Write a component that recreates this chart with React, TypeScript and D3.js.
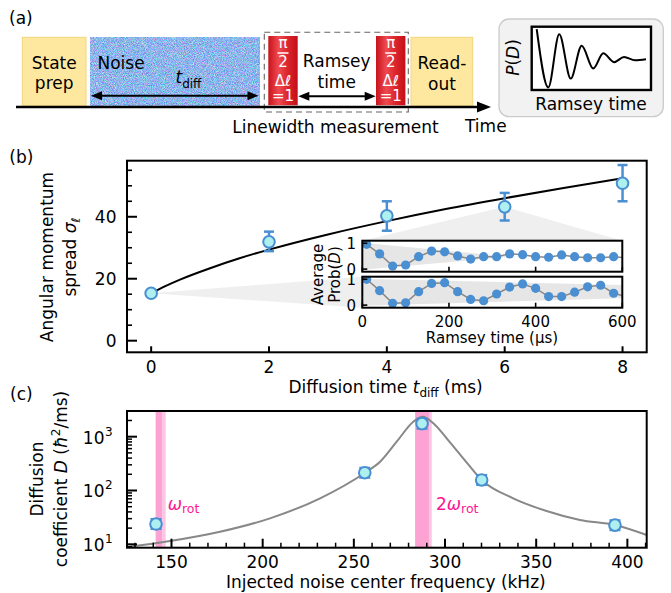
import React from 'react';
import * as d3 from 'd3';

const F = "'DejaVu Sans', sans-serif";

// ---------- Panel (b) data ----------
const diffTimes = [0, 2, 4, 6, 8];
const sigmaVals = [15.3, 31.9, 40.3, 43.2, 50.8];
const sigmaLo = [15.3, 28.9, 35.5, 38.8, 45.0];
const sigmaHi = [15.3, 35.2, 45.0, 47.7, 56.7];
const fitTimes = [0, 0.25, 0.5, 1, 1.5, 2, 3, 4, 5, 6, 7, 8];
const fitSigma = [15.3, 17.7, 19.8, 23.4, 26.6, 29.4, 34.3, 38.6, 42.5, 46.0, 49.3, 52.4];
const bXTicks = [0, 2, 4, 6, 8];
const bYMajor = [0, 20, 40];
const bYMinor = [5, 10, 15, 25, 30, 35, 45, 50, 55];

// inset (Ramsey) data
const ramseyTimes = [10, 40, 70, 100, 130, 160, 190, 220, 250, 280, 310, 340, 370, 400, 430, 460, 490, 520, 550, 580, 610];
const probAt6ms = [0.96, 0.59, 0.12, 0.16, 0.48, 0.70, 0.67, 0.51, 0.39, 0.48, 0.48, 0.59, 0.56, 0.48, 0.46, 0.55, 0.48, 0.44, 0.44, 0.48, 0.44];
const probAt0ms = [1.0, 0.56, 0.07, 0.09, 0.52, 0.84, 0.87, 0.52, 0.22, 0.17, 0.43, 0.70, 0.82, 0.65, 0.33, 0.33, 0.50, 0.71, 0.77, 0.46, 0.33];
const envTopT = [0, 330];
const envTopHi = [1.02, 0.5];
const envTopLo = [-0.02, 0.46];
const envBotT = [0, 600];
const envBotHi = [1.02, 0.78];
const envBotLo = [-0.02, 0.27];
const insetXTicks = [0, 200, 400, 600];
const insetYTicks = [0, 1];

// ---------- Panel (c) data ----------
const noiseFreqs = [141.5, 256.0, 287.4, 320.1, 393.2];
const diffD = [23.8, 214, 1750, 157, 22.7];
const diffDLo = [19.2, 173, 1411, 127, 18.3];
const diffDHi = [29.5, 265, 2170, 195, 28.1];
const modelFreqs = [125.6, 149.2, 176.6, 204, 231.5, 256.1, 264.4, 273.5, 282.6, 287.8, 293.6, 300.9, 310, 320.1, 337.4, 355.7, 374, 393.2, 410.6];
const modelD = [8.9, 11.5, 17.1, 30.4, 71.6, 214, 343, 807, 1900, 2355, 1775, 933, 396, 157, 71.6, 41.6, 28.3, 22.9, 14.9];
const rotBand = [141.3, 145.1, 146.8];
const rot2Band = [283.6, 291.2, 292.7];
const cXMajor = [150, 200, 250, 300, 350, 400];
const cXMinor = [130, 140, 160, 170, 180, 190, 210, 220, 230, 240, 260, 270, 280, 290, 310, 320, 330, 340, 360, 370, 380, 390, 410];
const cYMajor = [10, 100, 1000];
const cYMinor = [9, 20, 30, 40, 50, 60, 70, 80, 90, 200, 300, 400, 500, 600, 700, 800, 900, 2000, 3000];

// ---------- Panel (a) schematic data ----------
const schemT = [0.042, 0.139, 0.231, 0.327, 0.419, 0.516, 0.600, 0.690, 0.774, 0.866, 0.958];
const schemP = [0.96, 0.04, 0.88, 0.18, 0.70, 0.34, 0.58, 0.44, 0.52, 0.47, 0.485];

const BLUE = '#4a8fd2';
const CYAN = '#aef0f0';
const PINK = '#ff1493';

function Pulse({ x }: { x: number }) {
  const cx = x + 14.7;
  return (
    <g>
      <rect x={x} y={36} width={29.4} height={69.3} fill="url(#redGrad)" />
      <g fill="white" fontSize={15} textAnchor="middle">
        <text x={cx} y={48}>π</text>
        <line x1={cx - 5.5} x2={cx + 5.5} y1={53} y2={53} stroke="white" strokeWidth={1.5} />
        <text x={cx} y={67.3}>2</text>
        <text x={cx} y={86.3}>Δℓ</text>
        <text x={cx} y={101}>=1</text>
      </g>
    </g>
  );
}

function DoubleArrow({ x1, x2, y }: { x1: number; x2: number; y: number }) {
  return (
    <g>
      <line x1={x1 + 8} x2={x2 - 8} y1={y} y2={y} stroke="black" strokeWidth={2} />
      <polygon points={`${x1},${y} ${x1 + 11},${y - 4.5} ${x1 + 11},${y + 4.5}`} fill="black" />
      <polygon points={`${x2},${y} ${x2 - 11},${y - 4.5} ${x2 - 11},${y + 4.5}`} fill="black" />
    </g>
  );
}

export default function App() {
  // Panel b scales
  const xB = d3.scaleLinear().domain([-0.41, 8.41]).range([127, 646.7]);
  const yB = d3.scaleLinear().domain([-3.75, 58.1]).range([352.3, 160.7]);
  const bL = 127, bR = 646.7, bT = 160.7, bBot = 352.3;

  // inset scales
  const inX = d3.scaleLinear().domain([0, 600]).range([362.3, 622.3]);
  const inYTop = d3.scaleLinear().domain([-0.1, 1.1]).range([271.7, 240.7]);
  const inYBot = d3.scaleLinear().domain([-0.1, 1.1]).range([307.7, 276.7]);

  // Panel c scales
  const xC = d3.scaleLinear().domain([125.6, 410.6]).range([127, 646.7]);
  const yC = d3.scaleLog().domain([8.65, 3000]).range([547.7, 411]);
  const cL = 127, cR = 646.7, cT = 411, cBot = 547.7;

  // schematic scales
  const sX = d3.scaleLinear().domain([0, 1]).range([531.7, 651]);
  const sY = d3.scaleLinear().domain([0, 1]).range([90, 26.7]);

  const fitLine = d3.line<number>().x((_, i) => xB(fitTimes[i])).y(d => yB(d)).curve(d3.curveMonotoneX)(fitSigma) || '';
  const topLine = d3.line<number>().x((_, i) => inX(ramseyTimes[i])).y(d => inYTop(d))(probAt6ms) || '';
  const botLine = d3.line<number>().x((_, i) => inX(ramseyTimes[i])).y(d => inYBot(d))(probAt0ms) || '';
  const modelLine = d3.line<number>().x((_, i) => xC(modelFreqs[i])).y(d => yC(d)).curve(d3.curveMonotoneX)(modelD) || '';
  const schemLine = d3.line<number>().x((_, i) => sX(schemT[i])).y(d => sY(d)).curve(d3.curveMonotoneX)(schemP) || '';

  const envPoly = (ts: number[], hi: number[], lo: number[], ys: d3.ScaleLinear<number, number>) => {
    const pts: [number, number][] = [];
    ts.forEach((t, i) => pts.push([inX(t), ys(hi[i])]));
    for (let i = ts.length - 1; i >= 0; i--) pts.push([inX(ts[i]), ys(lo[i])]);
    return pts.map(p => p.join(',')).join(' ');
  };

  // wedges from main-plot points to inset panels
  const p6 = [xB(diffTimes[3]), yB(sigmaVals[3])];
  const p0 = [xB(diffTimes[0]), yB(sigmaVals[0])];
  const wedgeTop = `${p6[0]},${p6[1]} ${inX(0)},${inYTop.range()[1]} ${inX(600)},${inYTop.range()[1]}`;
  const wedgeBot = `${p0[0]},${p0[1]} ${inX(0)},${inYBot.range()[1]} ${inX(0)},${inYBot.range()[0]}`;

  const fmtSup = (v: number) => String(Math.round(Math.log10(v)));

  return (
    <svg width={671} height={593} style={{ position: 'absolute', left: 0, top: 0, fontFamily: F }}>
      <defs>
        <filter id="noiseF" x="0" y="0" width="1" height="1" colorInterpolationFilters="sRGB">
          <feTurbulence type="fractalNoise" baseFrequency="1.1" numOctaves="2" seed="4" result="t" />
          <feColorMatrix in="t" type="matrix"
            values="0.9 0 0 0 0.11  0 0.8 0 0 0.31  0 0 0.5 0 0.675  0 0 0 0 1" />
        </filter>
        <linearGradient id="redGrad" x1="0" x2="1" y1="0" y2="0">
          <stop offset="0" stopColor="#c8121b" />
          <stop offset="0.35" stopColor="#ee4a50" />
          <stop offset="0.65" stopColor="#dc262d" />
          <stop offset="1" stopColor="#c40f18" />
        </linearGradient>
        <clipPath id="clipTop"><rect x={362.3} y={240.7} width={260} height={31} /></clipPath>
        <clipPath id="clipBot"><rect x={362.3} y={276.7} width={260} height={31} /></clipPath>
        <clipPath id="clipC"><rect x={cL} y={cT} width={cR - cL} height={cBot - cT} /></clipPath>
      </defs>

      {/* ================= Panel (a) ================= */}
      <text x={9} y={24} fontSize={17}>(a)</text>
      <rect x={22.3} y={37.3} width={63.7} height={68.7} fill="#fee79f" stroke="#f6d57c" strokeWidth={1} />
      <text x={54.2} y={68.5} fontSize={17} textAnchor="middle">State</text>
      <text x={54.2} y={88.5} fontSize={17} textAnchor="middle">prep</text>

      <rect x={90} y={37.3} width={170} height={68.7} fill="#90b5ee" filter="url(#noiseF)" />
      <text x={97.5} y={68.5} fontSize={17}>Noise</text>
      <text x={175.5} y={83.3} fontSize={17} fontStyle="italic">t<tspan fontStyle="normal" fontSize={12} dy={5}>diff</tspan></text>
      <DoubleArrow x1={91} x2={258.5} y={95.7} />

      <rect x={264.3} y={32.3} width={144} height={79.7} fill="none" stroke="#666" strokeWidth={1.1} strokeDasharray="6 4" />
      <Pulse x={268.3} />
      <Pulse x={376} />
      <text x={336.7} y={67} fontSize={17} textAnchor="middle">Ramsey</text>
      <text x={336.7} y={88} fontSize={17} textAnchor="middle">time</text>
      <DoubleArrow x1={298.3} x2={375.7} y={96.3} />

      <rect x={411} y={37.3} width={61.7} height={68.7} fill="#fee79f" stroke="#f6d57c" strokeWidth={1} />
      <text x={442} y={69} fontSize={17} textAnchor="middle">Read-</text>
      <text x={442} y={89.5} fontSize={17} textAnchor="middle">out</text>

      <line x1={16} x2={478} y1={107} y2={107} stroke="black" strokeWidth={2.6} />
      <polygon points="477,101.5 491,107 477,112.5" fill="black" />
      <text x={335.5} y={132.5} fontSize={17} textAnchor="middle">Linewidth measurement</text>
      <text x={485.8} y={131.7} fontSize={17} textAnchor="middle">Time</text>

      <rect x={499} y={19} width={164.3} height={97.7} rx={10} fill="#f2f2f2" stroke="#cbcbcb" strokeWidth={1.3} />
      <rect x={531.7} y={26.7} width={119.3} height={63.3} fill="white" stroke="black" strokeWidth={2.4} />
      <path d={schemLine} fill="none" stroke="black" strokeWidth={2} />
      <text transform="translate(518.5,57.5) rotate(-90)" fontSize={17} textAnchor="middle">
        <tspan fontStyle="italic">P</tspan>(<tspan fontStyle="italic">D</tspan>)
      </text>
      <text x={591} y={109.5} fontSize={17} textAnchor="middle">Ramsey time</text>

      {/* ================= Panel (b) ================= */}
      <text x={9.3} y={163} fontSize={17}>(b)</text>
      <polygon points={wedgeTop} fill="#efefef" />
      <polygon points={wedgeBot} fill="#efefef" />
      <path d={fitLine} fill="none" stroke="black" strokeWidth={2} />
      {diffTimes.map((t, i) => (
        sigmaHi[i] > sigmaLo[i] ? (
          <g key={'eb' + i} stroke={BLUE} strokeWidth={2.5}>
            <line x1={xB(t)} x2={xB(t)} y1={yB(sigmaLo[i])} y2={yB(sigmaHi[i])} />
            <line x1={xB(t) - 5} x2={xB(t) + 5} y1={yB(sigmaLo[i])} y2={yB(sigmaLo[i])} />
            <line x1={xB(t) - 5} x2={xB(t) + 5} y1={yB(sigmaHi[i])} y2={yB(sigmaHi[i])} />
          </g>
        ) : null
      ))}
      {diffTimes.map((t, i) => (
        <circle key={'pb' + i} cx={xB(t)} cy={yB(sigmaVals[i])} r={5.8} fill={CYAN} stroke={BLUE} strokeWidth={2} />
      ))}
      <rect x={bL} y={bT} width={bR - bL} height={bBot - bT} fill="none" stroke="black" strokeWidth={2} />
      {bYMajor.map(v => (
        <g key={'bym' + v}>
          <line x1={bL} x2={bL + 10} y1={yB(v)} y2={yB(v)} stroke="black" strokeWidth={2} />
          <text x={116.5} y={yB(v)} dy="0.36em" fontSize={17} textAnchor="end">{v}</text>
        </g>
      ))}
      {bYMinor.map(v => (
        <line key={'byn' + v} x1={bL} x2={bL + 5} y1={yB(v)} y2={yB(v)} stroke="black" strokeWidth={1.6} />
      ))}
      {bXTicks.map(v => (
        <g key={'bx' + v}>
          <line x1={xB(v)} x2={xB(v)} y1={bBot} y2={bBot - 6} stroke="black" strokeWidth={2} />
          <text x={xB(v)} y={372.5} fontSize={17} textAnchor="middle">{v}</text>
        </g>
      ))}
      <text transform="translate(53,257) rotate(-90)" fontSize={17} textAnchor="middle">Angular momentum</text>
      <text transform="translate(76,257) rotate(-90)" fontSize={17} textAnchor="middle">
        spread <tspan fontStyle="italic">σ</tspan><tspan fontStyle="italic" fontSize={12} dy={4}>ℓ</tspan>
      </text>
      <text x={385.6} y={393} fontSize={17} textAnchor="middle">
        Diffusion time <tspan fontStyle="italic">t</tspan><tspan fontSize={12} dy={4}>diff</tspan><tspan dy={-4}> (ms)</tspan>
      </text>

      {/* inset */}
      <rect x={362.3} y={240.7} width={260} height={31} fill="white" />
      <rect x={362.3} y={276.7} width={260} height={31} fill="white" />
      <g clipPath="url(#clipTop)">
        <polygon points={envPoly(envTopT, envTopHi, envTopLo, inYTop)} fill="#e6e6e6" />
        <path d={topLine} fill="none" stroke="#888" strokeWidth={1.5} />
        {ramseyTimes.map((t, i) => (
          <circle key={'it' + i} cx={inX(t)} cy={inYTop(probAt6ms[i])} r={4.6} fill={BLUE} />
        ))}
      </g>
      <g clipPath="url(#clipBot)">
        <polygon points={envPoly(envBotT, envBotHi, envBotLo, inYBot)} fill="#e6e6e6" />
        <path d={botLine} fill="none" stroke="#888" strokeWidth={1.5} />
        {ramseyTimes.map((t, i) => (
          <circle key={'ib' + i} cx={inX(t)} cy={inYBot(probAt0ms[i])} r={4.6} fill={BLUE} />
        ))}
      </g>
      <rect x={362.3} y={240.7} width={260} height={31} fill="none" stroke="black" strokeWidth={2} />
      <rect x={362.3} y={276.7} width={260} height={31} fill="none" stroke="black" strokeWidth={2} />
      {insetXTicks.map(v => (
        <g key={'ix' + v}>
          <line x1={inX(v)} x2={inX(v)} y1={271.7} y2={266.7} stroke="black" strokeWidth={1.6} />
          <line x1={inX(v)} x2={inX(v)} y1={307.7} y2={302.7} stroke="black" strokeWidth={1.6} />
          <text x={inX(v)} y={327.3} fontSize={15} textAnchor="middle">{v}</text>
        </g>
      ))}
      {insetYTicks.map(v => (
        <g key={'iy' + v}>
          <line x1={362.3} x2={367.3} y1={inYTop(v)} y2={inYTop(v)} stroke="black" strokeWidth={1.6} />
          <line x1={362.3} x2={367.3} y1={inYBot(v)} y2={inYBot(v)} stroke="black" strokeWidth={1.6} />
          <text x={356} y={inYTop(v)} dy="0.36em" fontSize={15} textAnchor="end">{v}</text>
          <text x={356} y={inYBot(v)} dy="0.36em" fontSize={15} textAnchor="end">{v}</text>
        </g>
      ))}
      <text transform="translate(323,274.5) rotate(-90)" fontSize={15} textAnchor="middle">Average</text>
      <text transform="translate(339.6,274.5) rotate(-90)" fontSize={15} textAnchor="middle">
        Prob(<tspan fontStyle="italic">D</tspan>)
      </text>
      <text x={492} y={343} fontSize={15} textAnchor="middle">Ramsey time (µs)</text>

      {/* ================= Panel (c) ================= */}
      <text x={10} y={399.6} fontSize={17}>(c)</text>
      <g clipPath="url(#clipC)">
        <rect x={xC(rotBand[0])} y={cT} width={xC(rotBand[1]) - xC(rotBand[0])} height={cBot - cT} fill="#fca3d3" />
        <rect x={xC(rotBand[1])} y={cT} width={xC(rotBand[2]) - xC(rotBand[1])} height={cBot - cT} fill="#fdc4e3" />
        <rect x={xC(rot2Band[0])} y={cT} width={xC(rot2Band[1]) - xC(rot2Band[0])} height={cBot - cT} fill="#fca3d3" />
        <rect x={xC(rot2Band[1])} y={cT} width={xC(rot2Band[2]) - xC(rot2Band[1])} height={cBot - cT} fill="#fdc4e3" />
        <path d={modelLine} fill="none" stroke="#888" strokeWidth={2} />
        {noiseFreqs.map((f, i) => (
          <g key={'ec' + i} stroke={BLUE} strokeWidth={2}>
            <line x1={xC(f)} x2={xC(f)} y1={yC(diffDLo[i])} y2={yC(diffDHi[i])} />
            <line x1={xC(f) - 5.5} x2={xC(f) + 5.5} y1={yC(diffDLo[i])} y2={yC(diffDLo[i])} />
            <line x1={xC(f) - 5.5} x2={xC(f) + 5.5} y1={yC(diffDHi[i])} y2={yC(diffDHi[i])} />
          </g>
        ))}
        {noiseFreqs.map((f, i) => (
          <circle key={'pc' + i} cx={xC(f)} cy={yC(diffD[i])} r={5.8} fill={CYAN} stroke={BLUE} strokeWidth={2} />
        ))}
      </g>
      <rect x={cL} y={cT} width={cR - cL} height={cBot - cT} fill="none" stroke="black" strokeWidth={2} />
      {cYMajor.map(v => (
        <g key={'cym' + v}>
          <line x1={cL} x2={cL + 10} y1={yC(v)} y2={yC(v)} stroke="black" strokeWidth={2} />
          <text x={104.5} y={yC(v) + 7} fontSize={17} textAnchor="end">10</text>
          <text x={105} y={yC(v) - 1} fontSize={12}>{fmtSup(v)}</text>
        </g>
      ))}
      {cYMinor.map(v => (
        <line key={'cyn' + v} x1={cL} x2={cL + 5} y1={yC(v)} y2={yC(v)} stroke="black" strokeWidth={1.5} />
      ))}
      {cXMajor.map(v => (
        <g key={'cxm' + v}>
          <line x1={xC(v)} x2={xC(v)} y1={cBot} y2={cBot - 9} stroke="black" strokeWidth={2} />
          <text x={xC(v)} y={568} fontSize={17} textAnchor="middle">{v}</text>
        </g>
      ))}
      {cXMinor.map(v => (
        <line key={'cxn' + v} x1={xC(v)} x2={xC(v)} y1={cBot} y2={cBot - 5} stroke="black" strokeWidth={1.5} />
      ))}
      <text x={167.7} y={510} fontSize={17} fill={PINK} fontStyle="italic">
        ω<tspan fontStyle="normal" fontSize={12.5} dy={2.5}>rot</tspan>
      </text>
      <text x={436} y={510} fontSize={17} fill={PINK}>
        2<tspan fontStyle="italic">ω</tspan><tspan fontSize={12.5} dy={2.5}>rot</tspan>
      </text>
      <text transform="translate(43,479) rotate(-90)" fontSize={17} textAnchor="middle">Diffusion</text>
      <text transform="translate(66.5,479) rotate(-90)" fontSize={17} textAnchor="middle">
        coefficient <tspan fontStyle="italic">D</tspan> (<tspan fontStyle="italic">ħ</tspan><tspan fontSize={12} dy={-7}>2</tspan><tspan dy={7}>/ms)</tspan>
      </text>
      <text x={385.8} y={588} fontSize={17} textAnchor="middle">Injected noise center frequency (kHz)</text>
    </svg>
  );
}
